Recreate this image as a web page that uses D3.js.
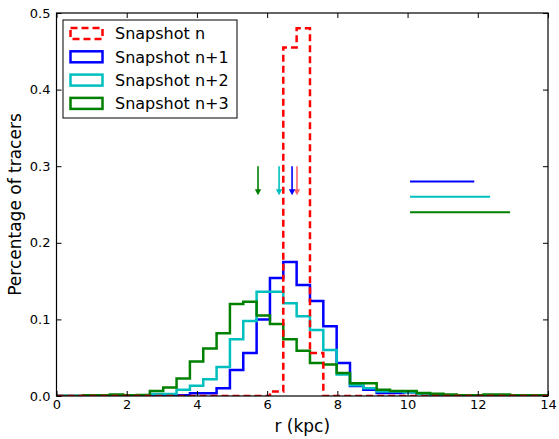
<!DOCTYPE html>
<html>
<head>
<meta charset="utf-8">
<script src="https://cdn.jsdelivr.net/npm/d3@7"></script>
<style>
  body { margin: 0; background: #fff; }
  text { font-family: "DejaVu Sans", sans-serif; fill: #000; }
</style>
</head>
<body>
<div class="chart"></div>
<script>
// histogram data, bins of 0.38 kpc starting at r = 0
const binWidth = 0.38;
const snapN = [0, 0, 0, 0, 0, 0, 0, 0, 0, 0, 0, 0, 0, 0, 0, 0, 0.006, 0.455, 0.48, 0.056,
    0, 0, 0, 0, 0, 0, 0, 0, 0, 0, 0, 0, 0, 0, 0, 0, 0];
const snapN1 = [0, 0, 0, 0, 0, 0, 0, 0, 0.001, 0.001, 0.0035, 0.0035, 0.010, 0.034, 0.056, 0.100,
    0.154, 0.175, 0.145, 0.124, 0.091, 0.043, 0.013, 0.008, 0.004, 0.004, 0.005, 0.003, 0.001,
    0.001, 0.001, 0, 0, 0, 0, 0, 0];
const snapN2 = [0, 0, 0, 0, 0, 0, 0, 0.0026, 0.0026, 0.008, 0.0135, 0.022, 0.038, 0.074, 0.098,
    0.136, 0.136, 0.121, 0.104, 0.086, 0.060, 0.028, 0.014, 0.010, 0.006, 0.006, 0.005, 0.003,
    0.002, 0.001, 0.001, 0.001, 0.001, 0, 0, 0, 0];
const snapN3 = [0, 0, 0.001, 0.001, 0.002, 0.001, 0.0013, 0.0065, 0.011, 0.023, 0.045, 0.062,
    0.082, 0.120, 0.123, 0.105, 0.094, 0.074, 0.059, 0.043, 0.041, 0.030, 0.0165, 0.0165, 0.008,
    0.0065, 0.0065, 0.004, 0.003, 0.002, 0.001, 0.001, 0.002, 0.002, 0.001, 0.001, 0.001];

const labels = ["Snapshot n", "Snapshot n+1", "Snapshot n+2", "Snapshot n+3"];
const colors = ["#ff0000", "#0000ff", "#00bfbf", "#008000"];

// mean radius arrows (from 0.30 down to 0.262)
const arrowR = [6.85, 6.71, 6.34, 5.74];
const arrowTop = 0.30, arrowTip = 0.262;

// spread bars on the right: [start, end, level] for n+1..n+3
const spreadStart = [10.07, 10.07, 10.07];
const spreadEnd = [11.9, 12.35, 12.92];
const spreadLevel = [0.28, 0.26, 0.24];

const xTicks = [0, 2, 4, 6, 8, 10, 12, 14];
const yTicks = [0, 0.1, 0.2, 0.3, 0.4, 0.5];

const margin = { top: 13, right: 11, bottom: 43, left: 56.5 };
const width = 559 - margin.left - margin.right,
    height = 439 - margin.top - margin.bottom;

let svg = d3.select(".chart")
    .append("svg")
    .attr("width", width + margin.left + margin.right)
    .attr("height", height + margin.top + margin.bottom)
    .append("g")
    .attr("transform", `translate(${margin.left}, ${margin.top})`);

let xScale = d3.scaleLinear().domain([0, 14]).range([0, width]);
let yScale = d3.scaleLinear().domain([0, 0.5]).range([height, 0]);

svg.append("clipPath").attr("id", "plot-clip")
    .append("rect").attr("width", width).attr("height", height);

const plot = svg.append("g").attr("clip-path", "url(#plot-clip)");

// step outline like a histtype='step' histogram
function stepPath(values) {
    const pts = [[0, 0]];
    values.forEach((v, i) => {
        pts.push([i * binWidth, v]);
        pts.push([(i + 1) * binWidth, v]);
    });
    pts.push([values.length * binWidth, 0]);
    return d3.line().x(d => xScale(d[0])).y(d => yScale(d[1]))(pts);
}

const series = [snapN1, snapN2, snapN3];
series.forEach((vals, i) => {
    plot.append("path")
        .attr("d", stepPath(vals))
        .attr("fill", "none")
        .attr("stroke", colors[i + 1])
        .attr("stroke-width", 2.5)
        .attr("stroke-linejoin", "miter");
});

plot.append("path")
    .attr("d", stepPath(snapN))
    .attr("fill", "none")
    .attr("stroke", colors[0])
    .attr("stroke-width", 2.5)
    .attr("stroke-dasharray", "7,4");

// arrows
arrowR.forEach((r, i) => {
    const x = xScale(r);
    const g = plot.append("g").attr("opacity", i === 0 ? 0.6 : 1);
    g.append("line")
        .attr("x1", x).attr("x2", x)
        .attr("y1", yScale(arrowTop)).attr("y2", yScale(arrowTip) - 5)
        .attr("stroke", colors[i]).attr("stroke-width", 1.6);
    g.append("path")
        .attr("d", `M${x - 3.2},${yScale(arrowTip) - 6} L${x + 3.2},${yScale(arrowTip) - 6} L${x},${yScale(arrowTip)} Z`)
        .attr("fill", colors[i]);
});

// spread bars
spreadStart.forEach((s, i) => {
    plot.append("line")
        .attr("x1", xScale(s)).attr("x2", xScale(spreadEnd[i]))
        .attr("y1", yScale(spreadLevel[i])).attr("y2", yScale(spreadLevel[i]))
        .attr("stroke", colors[i + 1]).attr("stroke-width", 2);
});

// axes, ticks pointing inward on all four sides
svg.append("g").attr("class", "x-axis")
    .attr("transform", `translate(0, ${height})`)
    .call(d3.axisBottom(xScale).tickValues(xTicks).tickSize(-5).tickPadding(4).tickFormat(d3.format("d")));
svg.append("g")
    .call(d3.axisTop(xScale).tickValues(xTicks).tickSize(-5).tickFormat(""));
svg.append("g").attr("class", "y-axis")
    .call(d3.axisLeft(yScale).tickValues(yTicks).tickSize(-5).tickPadding(6).tickFormat(d3.format(".1f")));
svg.append("g")
    .attr("transform", `translate(${width}, 0)`)
    .call(d3.axisRight(yScale).tickValues(yTicks).tickSize(-5).tickFormat(""));

svg.selectAll(".domain").remove();
svg.selectAll(".tick line").attr("stroke", "#000").attr("stroke-width", 1);
svg.selectAll(".tick text").style("font-size", "13px").style("font-family", "DejaVu Sans");

svg.append("rect")
    .attr("width", width).attr("height", height)
    .attr("fill", "none").attr("stroke", "#000").attr("stroke-width", 1.2);

// axis titles
svg.append("text")
    .attr("x", width / 2).attr("y", height + 36)
    .attr("text-anchor", "middle")
    .style("font-size", "17px")
    .text("r (kpc)");

svg.append("text")
    .attr("transform", `translate(${-36}, ${height / 2}) rotate(-90)`)
    .attr("text-anchor", "middle")
    .style("font-size", "17px")
    .text("Percentage of tracers");

// legend
const legend = svg.append("g").attr("transform", "translate(6.5, 7)");
legend.append("rect")
    .attr("width", 174).attr("height", 98)
    .attr("fill", "#fff").attr("stroke", "#000").attr("stroke-width", 1);

labels.forEach((lab, i) => {
    const cy = 13.5 + i * 23.3;
    legend.append("rect")
        .attr("x", 7.5).attr("y", cy - 5.5)
        .attr("width", 32).attr("height", 11)
        .attr("fill", "none")
        .attr("stroke", colors[i])
        .attr("stroke-width", 2.5)
        .attr("stroke-dasharray", i === 0 ? "7,4" : null);
    legend.append("text")
        .attr("x", 52).attr("y", cy)
        .attr("dy", "0.36em")
        .style("font-size", "16px")
        .text(lab);
});
</script>
</body>
</html>
